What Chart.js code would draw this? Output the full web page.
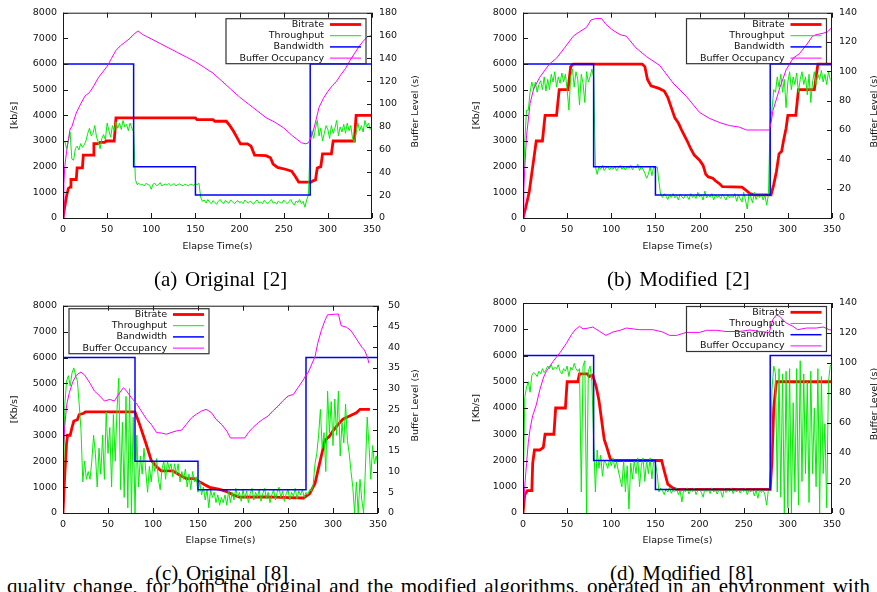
<!DOCTYPE html>
<html>
<head>
<meta charset="utf-8">
<script src="https://cdn.jsdelivr.net/npm/chart.js@4.4.1/dist/chart.umd.min.js"></script>
<style>
  html, body { margin: 0; padding: 0; background: #fff; }
  body { width: 877px; height: 592px; position: relative; overflow: hidden; }
  canvas { position: absolute; }
  .cap { position: absolute; font-family: "Liberation Serif", "Times New Roman", serif; font-size: 21px;
         line-height: 21px; white-space: nowrap; color: #000; word-spacing: 2.5px; }
</style>
</head>
<body>
<canvas id="pa" width="440" height="258" style="left:0;top:0"></canvas>
<canvas id="pb" width="437" height="258" style="left:440px;top:0"></canvas>
<canvas id="pc" width="440" height="262" style="left:0;top:290px"></canvas>
<canvas id="pd" width="437" height="262" style="left:440px;top:290px"></canvas>

<div class="cap" style="left:154px;top:269px">(a) Original [2]</div>
<div class="cap" style="left:607px;top:269px">(b) Modified [2]</div>
<div class="cap" style="left:155px;top:563px">(c) Original [8]</div>
<div class="cap" style="left:610px;top:563px">(d) Modified [8]</div>
<div class="cap" id="bodyline" style="left:7px;top:576px;word-spacing:0">quality change, for both the original and the modified algorithms, operated in an environment with</div>

<script>
/* ================= DATA ================= */
const labels = ["Bitrate", "Throughput", "Bandwidth", "Buffer Occupancy"];
const xTicks = [0, 50, 100, 150, 200, 250, 300, 350];
const thrStep = 2; // throughput sampled every 2 s

// (a) Original [2]
const aBitrate = [[0,0],[2,450],[4,850],[6,1150],[8,1200],[9,1500],[15,1500],[16,1950],[22,1950],[23,2450],
  [34,2450],[35,2900],[40,2900],[42,2950],[47,2950],[49,3000],[58,3000],[60,3900],[150,3900],[152,3830],
  [170,3830],[172,3770],[185,3770],[189,3600],[193,3390],[197,3140],[201,2890],[209,2890],[213,2800],[217,2450],
  [230,2430],[235,2350],[238,2100],[243,1970],[253,1890],[259,1820],[263,1630],[267,1400],[281,1400],[283,1450],
  [286,1480],[288,1950],[292,2000],[294,2500],[304,2500],[306,3000],[330,3000],[332,4000],[350,4000]];
const aThroughput = [
  2900,3000,2700,3000,3350,2300,2250,2700,2800,2650,
  2900,2750,2850,3000,3300,3500,3200,3300,3600,3150,
  2950,2700,3100,3250,3050,3700,3400,3150,3600,3400,
  3750,3500,3700,3450,3800,3550,3650,3400,3700,3500,
  3350,1500,1300,1350,1280,1320,1250,1350,1300,1280,
  1120,1320,1350,1260,1300,1380,1250,1300,1320,1280,
  1350,1260,1300,1340,1250,1300,1330,1280,1260,1320,
  1290,1250,1320,1300,1270,1330,1300,1350,800,650,
  700,580,720,620,560,680,600,540,650,720,
  610,560,690,620,580,700,640,560,620,680,
  590,640,560,700,620,580,660,600,540,650,
  700,580,620,560,690,600,560,650,720,580,
  620,540,660,600,580,700,620,560,640,720,
  580,500,660,600,720,560,650,420,700,900,
  2900,3400,3100,3500,3800,3200,3500,3000,3300,3600,
  3450,3100,3600,3300,3500,3800,3200,3550,3350,3650,
  3300,3700,3400,3600,3100,2950,3300,3700,3400,3600,
  3350,3800,3550,3700,3450,3600];
const aBandwidth = [[0,6000],[80,6000],[80,2000],[150,2000],[150,900],[280,900],[280,6000],[350,6000]];
const aBuffer = [[0,0],[1,30],[2,45],[4,58],[6,68],[8,78],[10,80],[12,85],[15,92],[20,100],[25,107],[30,110],
  [35,116],[40,123],[45,128],[50,133],[55,140],[60,147],[65,151],[70,154],[75,157],[80,161],[85,164],[90,161],
  [95,159],[100,157],[110,153],[120,149],[130,145],[140,141],[150,137],[160,132],[170,127],[180,120],[190,113],
  [200,106],[210,100],[220,94],[230,88],[240,84],[250,79],[260,72],[265,69],[270,66],[275,65],[278,66],[280,69],
  [283,75],[286,84],[290,97],[295,105],[300,111],[305,116],[310,120],[315,126],[320,131],[325,138],[330,144],
  [335,150],[340,155],[345,159],[350,160]];

// (b) Modified [2]
const bBitrate = [[0,0],[3,400],[5,700],[7,1000],[9,1500],[11,2000],[13,2500],[15,3000],[22,3000],[25,4000],
  [38,4000],[41,5000],[51,5000],[54,5900],[57,6000],[135,6000],[138,5900],[141,5400],[145,5150],[154,5050],
  [160,4950],[164,4700],[167,4400],[172,3900],[176,3700],[180,3400],[186,3000],[190,2700],[194,2450],[200,2250],
  [204,2050],[207,1700],[210,1600],[215,1550],[218,1450],[222,1350],[226,1220],[248,1200],[252,1100],[257,950],
  [262,900],[281,900],[284,1300],[287,1800],[290,2500],[293,2600],[295,3000],[298,3500],[300,4000],[309,4000],
  [312,5000],[330,5000],[332,5500],[334,6000],[350,6000]];
const bThroughput = [
  300,3000,4200,4200,4900,5300,5000,5300,4900,5200,
  5350,5000,5500,4950,5400,5000,5600,5300,5700,5100,
  5500,5250,5650,5300,5600,5000,4200,5500,5800,5100,
  5700,5400,4400,5600,5250,4500,5700,5300,5500,5800,
  5500,2000,1700,2000,1900,2050,1850,1950,2000,1880,
  1960,1900,2000,1850,1950,2050,1900,1980,1870,2000,
  1930,2050,1880,2000,1950,2100,1850,2000,1900,1750,
  1550,1700,2000,1650,2000,1950,2000,1400,900,800,
  950,850,720,900,800,950,780,880,700,930,
  820,760,900,850,720,950,800,880,760,1000,
  820,900,700,1050,780,880,820,950,700,900,
  800,860,760,920,820,700,900,780,860,800,
  950,650,900,750,620,1000,700,350,950,800,
  600,1000,720,900,800,950,700,900,500,900,
  3800,4200,5000,4900,5500,5100,5600,4900,5400,4300,
  5300,5700,5000,5500,5200,5650,4900,5400,5700,5200,
  5500,4800,5600,4500,5300,5700,5200,5600,5400,5750,
  5300,5600,5200,5700,5400,5300];
const bBandwidth = [[0,6000],[80,6000],[80,2000],[150,2000],[150,900],[280,900],[280,6000],[350,6000]];
const bBuffer = [[0,0],[1,20],[2,34],[4,56],[8,78],[12,88],[19,96],[25,101],[30,105],[38,109],[47,116],[57,124],
  [64,127],[72,130],[77,135],[82,136],[89,136],[94,132],[102,128],[110,125],[117,124],[128,116],[140,110],
  [155,104],[170,92],[185,83],[200,72],[211,68],[223,65],[234,63],[245,62],[253,60],[268,60],[279,60],[281,65],
  [283,73],[291,89],[298,101],[306,109],[313,112],[321,118],[328,124],[332,125],[340,126],[345,127],[350,130]];

// (c) Original [8]
const cBitrate = [[0,0],[2,1500],[4,2700],[5,3000],[8,3000],[10,3300],[12,3550],[16,3600],[18,3800],[23,3850],
  [25,3900],[80,3900],[85,3430],[92,2700],[98,2030],[104,1780],[109,1625],[122,1625],[130,1460],[137,1330],
  [146,1330],[152,1200],[157,1100],[163,990],[174,910],[182,825],[189,700],[196,610],[226,620],[252,590],
  [267,580],[274,740],[280,1140],[285,1900],[291,2800],[296,2960],[300,3170],[306,3430],[311,3620],[319,3750],
  [326,3870],[330,4000],[341,4000]];
const cThroughput = [
  0,4200,5100,5300,4900,5400,5600,5300,5100,4200,
  3200,1200,2000,1300,1600,1300,2000,3000,2300,1000,
  2500,1500,3000,1300,3900,2300,3300,1000,3800,2000,
  4000,5200,900,3500,600,4500,200,4800,0,3700,
  0,3000,1000,2200,1500,2500,1600,800,1800,1200,
  2000,1600,2100,1300,900,1700,2000,1300,2000,1700,
  1900,1400,1900,1500,1900,1200,1600,1300,1700,1000,
  1500,900,1600,1200,1400,800,1200,700,1000,500,
  900,200,900,600,800,400,700,300,600,400,
  700,300,850,400,800,500,950,600,800,450,
  900,550,850,400,750,950,500,800,600,900,
  450,750,950,550,800,400,700,900,500,800,
  1000,600,850,450,750,900,500,800,650,950,
  550,850,700,900,600,800,700,900,850,1100,
  1900,2300,3000,4000,2500,3100,1600,4700,3100,4300,
  2600,4400,3000,4700,2200,3500,2700,4200,2800,2300,
  1600,1000,0,1200,0,1300,500,0,1700,3700,
  2600,1300,2600,1900,2200,1800];
const cBandwidth = [[0,6000],[80,6000],[80,2000],[150,2000],[150,900],[270,900],[270,6000],[350,6000]];
const cBuffer = [[0,14],[2,21],[4,26],[7,29],[11,31.7],[15,33.3],[20,34],[24,33.3],[30,31.3],[35,29.4],[41,28.2],
  [46,27],[52,27.4],[57,27],[63,29],[67,30.2],[70,29.6],[76,27.8],[82,26.3],[87,24.6],[93,22.6],[98,21.4],
  [104,19.4],[109,19.3],[115,19],[120,19.4],[126,19.8],[132,20],[137,21.4],[143,23],[148,23.8],[154,24.6],
  [159,25],[165,24.2],[170,22.6],[176,21.4],[182,19.8],[186,18.1],[202,18.1],[206,19.4],[211,20.6],[217,21.8],
  [222,22.6],[228,23.4],[233,24.6],[239,25.8],[244,27],[250,28.2],[256,28.6],[261,30.2],[267,32.1],[270,33.3],
  [272,33.7],[276,35.7],[280,37.7],[283,40.9],[287,44],[291,46.4],[294,47.8],[306,48],[309,45.2],[315,44.8],
  [320,44],[326,42],[332,40],[335,39.3],[338,37.7],[340,36.1]];

// (d) Modified [8]
const dBitrate = [[0,0],[2,700],[5,850],[10,850],[11,1900],[13,2400],[19,2400],[23,2500],[25,3000],[35,3000],
  [37,4000],[48,4000],[50,5000],[62,5000],[64,5300],[73,5300],[75,5200],[79,5250],[83,4800],[86,4300],
  [90,3300],[92,2800],[95,2500],[99,2050],[102,2000],[157,2000],[160,1600],[164,1100],[170,950],[174,900],
  [280,900],[282,2000],[284,4000],[287,5000],[350,5000]];
const dThroughput = [
  0,4400,4800,5000,4600,5250,5350,5300,5200,5400,
  5300,5500,5350,5450,5600,5500,5650,5450,5550,5500,
  5650,5400,5300,5500,5400,5600,5200,5550,5450,5700,
  5500,5400,5500,800,5600,5800,0,5400,5600,5000,
  2800,800,2400,1700,2200,1400,2000,1900,1700,2050,
  1800,2100,1700,1950,1600,1300,1000,2000,800,1800,
  150,1900,1300,2000,1500,2100,1000,1800,2100,1200,
  2000,1500,2100,1300,2000,1900,1500,800,950,850,
  700,920,800,980,750,880,820,950,700,850,
  420,900,800,960,720,880,820,950,700,860,
  900,780,600,920,820,880,740,960,800,880,
  720,900,820,600,940,780,880,820,960,740,
  880,800,920,760,880,820,950,700,880,800,
  920,650,880,560,900,780,880,700,300,900,
  950,4700,5600,5300,800,5500,600,5300,0,5400,
  200,5500,0,4200,800,5500,300,5800,1200,5300,
  1500,5000,400,5400,1500,4000,1000,5500,0,5200,
  1500,3400,200,5000,5600,5700];
const dBandwidth = [[0,6000],[80,6000],[80,2000],[150,2000],[150,900],[280,900],[280,6000],[350,6000]];
const dBuffer = [[0,0],[2,18],[4,33],[6,47],[8,56],[11,65],[15,72],[19,82],[23,90],[26,94],[34,101],[42,107],
  [49,113],[55,119],[59,122],[64,124.5],[68,122.7],[74,123.3],[79,124],[87,121],[94,118.4],[102,120.7],
  [110,121.8],[117,123.3],[132,122.2],[147,122.2],[158,120.7],[166,118.4],[174,118.4],[185,120.4],[200,120.4],
  [208,121.8],[219,121.8],[230,121],[245,121],[257,122],[268,121],[279,120.4],[283,129],[287,132],[291,131],
  [298,126.7],[306,124.4],[311,122.2],[321,123.3],[332,123.3],[340,124],[347,122.2],[350,121.8]];

/* ================= CHART GLOBAL ================= */
Chart.defaults.devicePixelRatio = 1;
Chart.defaults.font.family = '"DejaVu Sans", Verdana, sans-serif';
Chart.defaults.font.size = 9.5;
Chart.defaults.color = "#111";

const FONT = '9.5px "DejaVu Sans", Verdana, sans-serif';
const plain = v => String(v);

/* frame, inward ticks, legend box and axis titles (gnuplot look) */
const deco = {
  id: "deco",
  afterDatasetsDraw(chart, args, o) {
    const { ctx, chartArea: a, scales } = chart;
    ctx.save();

    ctx.strokeStyle = "#1a1a1a";
    ctx.lineWidth = 1;
    ctx.strokeRect(a.left + 0.5, a.top + 0.5, a.right - a.left - 1, a.bottom - a.top);

    const tl = 5;
    ctx.beginPath();
    scales.x.ticks.forEach(t => {
      const px = Math.round(scales.x.getPixelForValue(t.value)) + 0.5;
      ctx.moveTo(px, a.bottom); ctx.lineTo(px, a.bottom - tl);
      ctx.moveTo(px, a.top); ctx.lineTo(px, a.top + tl);
    });
    scales.y.ticks.forEach(t => {
      const py = Math.round(scales.y.getPixelForValue(t.value)) + 0.5;
      ctx.moveTo(a.left, py); ctx.lineTo(a.left + tl, py);
    });
    scales.y1.ticks.forEach(t => {
      const py = Math.round(scales.y1.getPixelForValue(t.value)) + 0.5;
      ctx.moveTo(a.right, py); ctx.lineTo(a.right - tl, py);
    });
    ctx.stroke();

    // legend
    const bw = 140, bh = 45;
    const lx = o.legendRight ? a.right - o.legendDx - bw : a.left + o.legendDx;
    const ly = a.top + o.legendDy;
    ctx.strokeStyle = "#333";
    ctx.lineWidth = 1.2;
    ctx.strokeRect(lx, ly, bw, bh);
    ctx.font = FONT;
    ctx.fillStyle = "#111";
    ctx.textAlign = "right";
    ctx.textBaseline = "middle";
    chart.data.datasets.forEach((ds, i) => {
      const cy = ly + 5.8 + i * 11.2;
      ctx.fillText(ds.label, lx + bw - 42, cy);
      ctx.strokeStyle = ds.borderColor;
      ctx.lineWidth = ds.borderWidth;
      ctx.beginPath();
      ctx.moveTo(lx + bw - 36, cy);
      ctx.lineTo(lx + bw - 5, cy);
      ctx.stroke();
    });

    // axis titles
    ctx.textAlign = "center";
    const cy = (a.top + a.bottom) / 2;
    ctx.fillText("Elapse Time(s)", (a.left + a.right) / 2, a.bottom + o.xTitleGap);
    ctx.save();
    ctx.translate(o.yTitleX, cy);
    ctx.rotate(-Math.PI / 2);
    ctx.fillText(o.yTitle, 0, 0);
    ctx.restore();
    ctx.save();
    ctx.translate(o.y1TitleX, cy - 4);
    ctx.rotate(-Math.PI / 2);
    ctx.fillText("Buffer Level (s)", 0, 0);
    ctx.restore();

    ctx.restore();
  }
};

function pairs(list) {
  return list.map(p => ({ x: p[0], y: p[1] }));
}

function sampled(values) {
  return values.map((v, i) => ({ x: i * thrStep, y: v }));
}

function desenhar(id, p) {
  const noGrid = { display: false, drawTicks: false };
  new Chart(document.getElementById(id), {
    type: "line",
    data: {
      datasets: [
        { label: labels[0], data: pairs(p.bitrate), borderColor: "#ff0000", borderWidth: 2.8, order: 4, yAxisID: "y" },
        { label: labels[1], data: sampled(p.throughput), borderColor: "#00ee00", borderWidth: 1, order: 3, yAxisID: "y" },
        { label: labels[2], data: pairs(p.bandwidth), borderColor: "#0000ff", borderWidth: 1.5, order: 2, yAxisID: "y" },
        { label: labels[3], data: pairs(p.buffer), borderColor: "#ff00ff", borderWidth: 1, order: 1, yAxisID: "y1" }
      ]
    },
    options: {
      responsive: false,
      animation: false,
      parsing: false,
      normalized: true,
      elements: { point: { radius: 0 }, line: { tension: 0, fill: false } },
      layout: { padding: { top: p.top, left: 0, right: 0, bottom: 0 } },
      scales: {
        x: {
          type: "linear", min: 0, max: 350,
          afterBuildTicks: s => { s.ticks = xTicks.map(v => ({ value: v })); },
          ticks: { padding: 6, maxRotation: 0, callback: plain },
          grid: noGrid, border: { display: false },
          afterFit: s => { s.height = p.xH; }
        },
        y: {
          position: "left", min: 0, max: 8000,
          ticks: { stepSize: 1000, padding: 6, callback: plain },
          grid: noGrid, border: { display: false },
          afterFit: s => { s.width = p.yW; }
        },
        y1: {
          position: "right", min: 0, max: p.y1Max,
          ticks: { stepSize: p.y1Step, padding: p.y1Pad, maxTicksLimit: 20, callback: plain },
          grid: noGrid, border: { display: false },
          afterFit: s => { s.width = p.y1W; }
        }
      },
      plugins: {
        legend: { display: false },
        tooltip: { enabled: false },
        deco: {
          legendRight: p.legendRight, legendDx: p.legendDx, legendDy: p.legendDy,
          xTitleGap: p.xTitleGap, yTitle: p.yTitle, yTitleX: p.yTitleX, y1TitleX: p.y1TitleX
        }
      }
    },
    plugins: [deco]
  });
}

/* ================= INIT ================= */
desenhar("pa", { bitrate: aBitrate, throughput: aThroughput, bandwidth: aBandwidth, buffer: aBuffer,
  top: 6, xH: 40, yW: 63, y1W: 68, y1Max: 180, y1Step: 20, y1Pad: 7,
  legendRight: true, legendDx: 6, legendDy: 6, xTitleGap: 29, yTitle: "[kb/s]", yTitleX: 15, y1TitleX: 416 });

desenhar("pb", { bitrate: bBitrate, throughput: bThroughput, bandwidth: bBandwidth, buffer: bBuffer,
  top: 6, xH: 40, yW: 83, y1W: 45, y1Max: 140, y1Step: 20, y1Pad: 7,
  legendRight: true, legendDx: 5.5, legendDy: 6, xTitleGap: 29, yTitle: "[Kb/s]", yTitleX: 36.7, y1TitleX: 435 });

desenhar("pc", { bitrate: cBitrate, throughput: cThroughput, bandwidth: cBandwidth, buffer: cBuffer,
  top: 13, xH: 39, yW: 63, y1W: 62, y1Max: 50, y1Step: 5, y1Pad: 10,
  legendRight: false, legendDx: 6, legendDy: 3, xTitleGap: 28, yTitle: "[Kb/s]", yTitleX: 15, y1TitleX: 416 });

desenhar("pd", { bitrate: dBitrate, throughput: dThroughput, bandwidth: dBandwidth, buffer: dBuffer,
  top: 13, xH: 39, yW: 83, y1W: 45, y1Max: 140, y1Step: 20, y1Pad: 7,
  legendRight: true, legendDx: 5.5, legendDy: 3.5, xTitleGap: 28, yTitle: "[Kb/s]", yTitleX: 36.7, y1TitleX: 435 });

/* stretch the cut-off body line to the column width */
const linha = document.getElementById("bodyline");
const espacos = linha.textContent.split(" ").length - 1;
linha.style.wordSpacing = ((863 - linha.getBoundingClientRect().width) / espacos) + "px";
</script>
</body>
</html>
